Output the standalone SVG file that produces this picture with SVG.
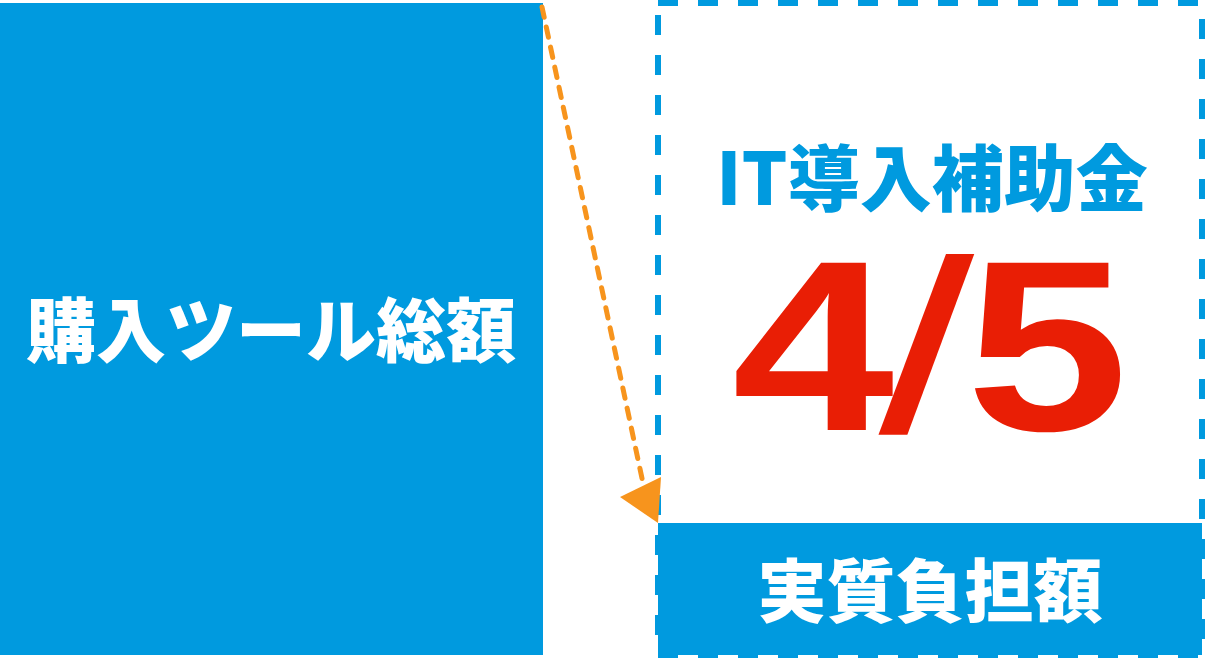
<svg xmlns="http://www.w3.org/2000/svg" width="1205" height="658" viewBox="0 0 1205 658">
<style>
.blue{fill:#009ADF}
.jp{font-family:"Noto Sans CJK JP","Noto Sans",sans-serif;font-weight:900;text-anchor:middle}
.wt{fill:#FFFFFF}
.big{font-family:"Liberation Sans",Arial,sans-serif;font-weight:700;font-size:243px;fill:#E91E05}
.frame{fill:none;stroke:#009ADF;stroke-width:6;stroke-dasharray:20 20}
.conn{fill:none;stroke:#F7941D;stroke-width:5;stroke-linecap:round;stroke-dasharray:10.5 10}
</style>
<rect width="1205" height="658" fill="#FFFFFF"/>
<g id="total">
<rect class="blue" x="0" y="3" width="543" height="652"/>
<text class="jp wt" x="271" y="357" font-size="70">購入ツール総額</text>
</g>
<g id="subsidy">
<rect class="blue" x="658" y="523" width="544" height="132"/>
<rect class="frame" x="658" y="3" width="544" height="652"/>
<text class="jp" x="932" y="205" font-size="72" fill="#009ADF">IT導入補助金</text>
<text class="big" transform="translate(732,430) scale(1.2,1)">4</text>
<text class="big" transform="translate(877,430) skewX(-10.3)">/</text>
<text class="big" transform="translate(966,430) scale(1.2,1)">5</text>
<text class="jp wt" x="930" y="617" font-size="69">実質負担額</text>
</g>
<g id="connectors">
<path class="conn" d="M542,7 L643,483"/>
<polygon points="658,523 620,497 661,477" fill="#F7941D"/>
</g>
</svg>
